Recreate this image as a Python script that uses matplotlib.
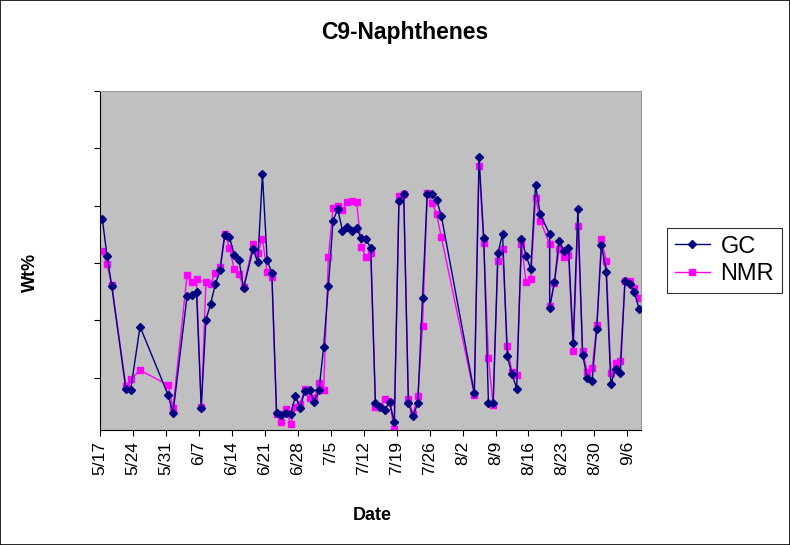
import matplotlib

matplotlib.use("Agg")
import matplotlib.pyplot as plt  # noqa: E402
import numpy as np  # noqa: E402
from matplotlib.patches import Rectangle  # noqa: E402

plt.rcParams["font.family"] = ["Liberation Sans", "DejaVu Sans"]

# sample days, counted from 5/17 (two samples on day 95)
days = [0, 1, 2, 5, 6, 8, 14, 15,
        18, 19, 20, 21, 22, 23, 24, 25, 26, 27, 28, 29, 30,
        32, 33, 34, 35, 36, 37, 38, 39, 40, 41, 42, 43, 44, 45, 46, 47, 48,
        49, 50, 51, 52, 53, 54, 55, 56, 57, 58, 59, 60, 61, 62, 63, 64, 65,
        66, 67, 68, 69, 70, 71, 72,
        79, 80, 81, 82, 83, 84, 85, 86, 87, 88, 89, 90, 91, 92, 93,
        95, 95,
        96, 97, 98, 99, 100, 101, 102, 103, 104, 105, 106, 107, 108, 109,
        110, 111, 112, 113, 114]

gc_wt = [3.76, 3.12, 2.59, 0.80, 0.78, 1.89, 0.69, 0.38,
         2.43, 2.44, 2.49, 0.47, 2.01, 2.29, 2.63, 2.87, 3.49, 3.45, 3.14,
         3.06, 2.56,
         3.24, 3.02, 4.55, 3.05, 2.83, 0.38, 0.35, 0.39, 0.37, 0.68, 0.47,
         0.77, 0.79, 0.58, 0.78, 1.53, 2.59, 3.74, 3.94, 3.56, 3.62, 3.56,
         3.61, 3.43, 3.41, 3.26, 0.55, 0.48, 0.44, 0.58, 0.22, 4.08, 4.20,
         0.55, 0.33, 0.56, 2.39, 4.21, 4.20, 4.10, 3.82,
         0.73, 4.85, 3.43, 0.56, 0.56, 3.17, 3.51, 1.37, 1.06, 0.81, 3.42,
         3.13, 2.89, 4.36, 3.85,
         3.50, 2.22,
         2.66, 3.39, 3.21, 3.27, 1.60, 3.95, 1.40, 0.99, 0.94, 1.85, 3.32,
         2.85, 0.89, 1.15, 1.08, 2.69, 2.64, 2.50, 2.19]

nmr_wt = [3.21, 2.98, 2.62, 0.85, 0.97, 1.13, 0.87, 0.47,
          2.79, 2.66, 2.72, 0.48, 2.67, 2.64, 2.83, 2.93, 3.51, 3.27, 2.89,
          2.80, 2.58,
          3.33, 3.18, 3.42, 2.84, 2.76, 0.37, 0.23, 0.45, 0.19, 0.49, 0.54,
          0.80, 0.64, 0.64, 0.91, 0.78, 3.10, 3.96, 4.00, 3.92, 4.06, 4.09,
          4.06, 3.28, 3.11, 3.17, 0.49, 0.49, 0.63, 0.57, 0.10, 4.17, 4.21,
          0.62, 0.36, 0.68, 1.90, 4.22, 4.05, 3.85, 3.45,
          0.70, 4.69, 3.35, 1.34, 0.52, 3.04, 3.24, 1.56, 1.09, 1.04, 3.33,
          2.66, 2.72, 4.14, 3.74,
          3.33, 2.25,
          2.65, 3.24, 3.10, 3.14, 1.47, 3.65, 1.46, 1.10, 1.16, 1.91, 3.42,
          3.04, 1.08, 1.25, 1.29, 2.69, 2.69, 2.56, 2.39]

tick_labels = ["5/17", "5/24", "5/31", "6/7", "6/14", "6/21", "6/28", "7/5",
               "7/12", "7/19", "7/26", "8/2", "8/9", "8/16", "8/23", "8/30",
               "9/6"]

fig = plt.figure(figsize=(7.9, 5.45), dpi=100)
ax = fig.add_axes([100 / 790, 1 - 430 / 545, 541 / 790, 339 / 545])
ax.set_facecolor("#c0c0c0")

ax.plot(days, gc_wt, color="#000080", lw=1.0, marker="D", ms=4.5,
        mec="#000080", mfc="#000080", label="GC", zorder=3)
ax.plot(days, nmr_wt, color="#ff00ff", lw=1.0, marker="s", ms=4.5,
        mec="#ff00ff", mfc="#ff00ff", label="NMR", zorder=2)

ax.set_xlim(-0.5, 114.4)
ax.set_ylim(0.087, 6.0)
ax.set_xticks(np.arange(len(tick_labels)) * 7 - 0.5)
ax.set_xticklabels(tick_labels, rotation=90, fontsize=12.5)
ax.set_yticks(np.arange(1, 7))
ax.set_yticklabels([])
ax.tick_params(axis="x", direction="out", length=4, width=0.8, pad=4)
ax.tick_params(axis="y", direction="out", length=4, width=0.8)
for side in ("top", "right"):
    ax.spines[side].set_color("#9a9a9a")
    ax.spines[side].set_linewidth(0.8)
for side in ("left", "bottom"):
    ax.spines[side].set_color("black")
    ax.spines[side].set_linewidth(0.8)

fig.text(405 / 790, 1 - 33 / 545, "C9-Naphthenes", ha="center", va="center",
         fontsize=16.5, fontweight="bold")
fig.text(30 / 790, 1 - 272 / 545, "Wt%", ha="center", va="center",
         rotation=90, fontsize=13, fontweight="bold")
fig.text(372 / 790, 1 - 515 / 545, "Date", ha="center", va="center",
         fontsize=13, fontweight="bold")

leg = fig.legend(loc="upper left", bbox_to_anchor=(667 / 790, 1 - 228 / 545),
                 fontsize=17, frameon=True, fancybox=False, shadow=False,
                 handlelength=1.5, handletextpad=0.45, borderpad=0.32,
                 labelspacing=0.25, borderaxespad=0)
leg.get_frame().set_edgecolor("black")
leg.get_frame().set_linewidth(0.8)

fig.patches.append(Rectangle((0, 0), 1, 1, transform=fig.transFigure,
                             fill=False, edgecolor="black", lw=1.2))

fig.savefig("out.png", dpi=100)
